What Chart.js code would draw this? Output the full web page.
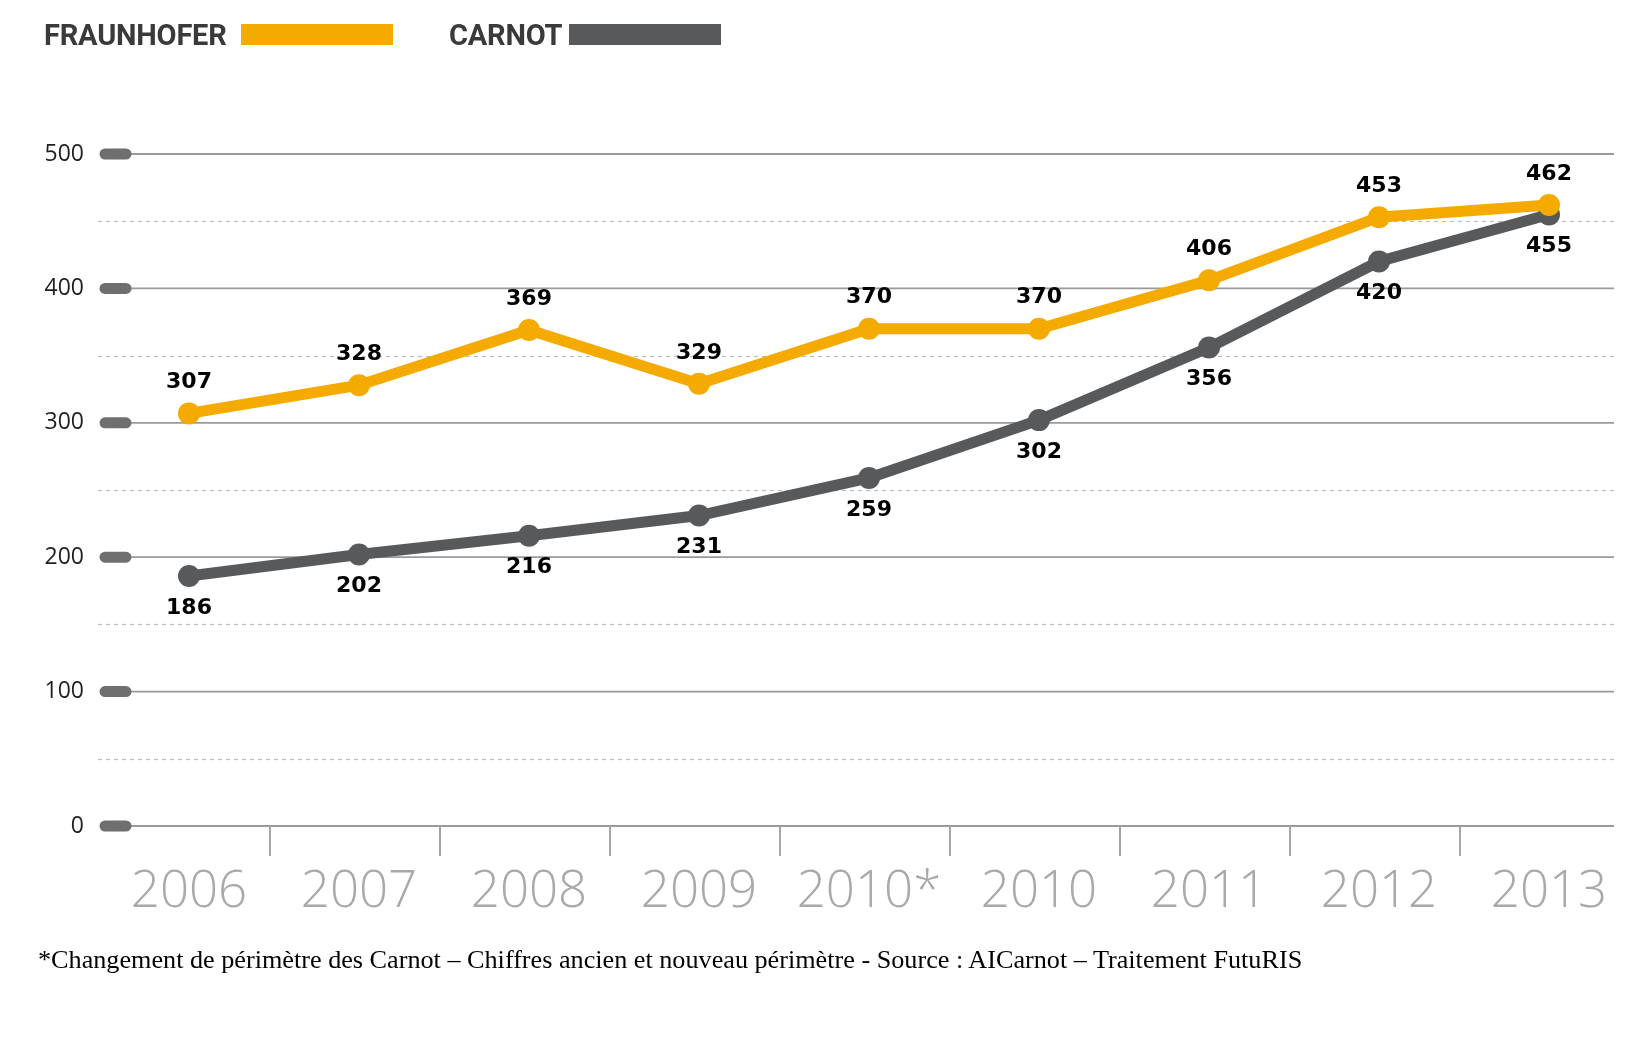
<!DOCTYPE html>
<html lang="fr">
<head>
<meta charset="utf-8">
<title>Fraunhofer / Carnot</title>
<script src="https://cdn.jsdelivr.net/npm/chart.js@4.4.1/dist/chart.umd.min.js"></script>
<style>
  html, body { margin: 0; padding: 0; background: #fff; }
  #page { position: relative; width: 1651px; height: 1048px; overflow: hidden; }
  #graphe { position: absolute; left: 0; top: 0; }
  .leg { position: absolute; top: 18px; font-family: "Liberation Sans Narrow", "Roboto", sans-serif;
         font-weight: bold; font-size: 29px; color: #3a3a3a; letter-spacing: -0.2px; line-height: 34px; }
  .barre { position: absolute; top: 24px; height: 21px; width: 152px; }
  #note { position: absolute; left: 38px; top: 945px; font-family: "Liberation Serif", "DejaVu Serif", serif;
          font-size: 26.2px; color: #000; white-space: nowrap; }
</style>
</head>
<body>
<div id="page">
  <canvas id="graphe" width="1651" height="1048"></canvas>
  <div class="leg" style="left:44px">FRAUNHOFER</div>
  <div class="barre" style="left:241px; background:#F5AA00"></div>
  <div class="leg" style="left:449px">CARNOT</div>
  <div class="barre" style="left:569px; background:#58595B"></div>
  <div id="note">*Changement de périmètre des Carnot – Chiffres ancien et nouveau périmètre - Source : AICarnot – Traitement FutuRIS</div>
</div>
<script>
// données
const annees = ["2006", "2007", "2008", "2009", "2010*", "2010", "2011", "2012", "2013"];
const fraunhofer = [307, 328, 369, 329, 370, 370, 406, 453, 462];
const carnot = [186, 202, 216, 231, 259, 302, 356, 420, 455];

const ORANGE = "#F5AA00";
const GRIS = "#58595B";

// grille : traits pleins aux graduations, pointillés entre, pastilles à gauche
const grillePlugin = {
  id: "grille",
  beforeDatasetsDraw(chart) {
    const { ctx, scales: { x, y } } = chart;
    const xDebut = 98, xPlein = 131, xFin = 1614;
    const vals = y.ticks.map(t => t.value);
    ctx.save();

    // pointillés (à mi-chemin entre deux graduations)
    ctx.strokeStyle = "#bdbdbd";
    ctx.lineWidth = 1.2;
    ctx.setLineDash([4, 4]);
    for (let i = 0; i < vals.length - 1; i++) {
      const py = Math.round(y.getPixelForValue((vals[i] + vals[i + 1]) / 2)) + 0.5;
      ctx.beginPath(); ctx.moveTo(xDebut, py); ctx.lineTo(xFin, py); ctx.stroke();
    }
    ctx.setLineDash([]);

    // traits pleins + pastilles
    vals.forEach(v => {
      const py = y.getPixelForValue(v);
      ctx.strokeStyle = "#9a9a9a";
      ctx.lineWidth = 1.8;
      ctx.beginPath(); ctx.moveTo(xPlein, py); ctx.lineTo(xFin, py); ctx.stroke();
      ctx.strokeStyle = "#6f6f70";
      ctx.lineWidth = 11;
      ctx.lineCap = "round";
      ctx.beginPath(); ctx.moveTo(105, py); ctx.lineTo(126, py); ctx.stroke();
      ctx.lineCap = "butt";
    });

    // petits séparateurs verticaux sous l'axe
    const base = y.getPixelForValue(0);
    ctx.strokeStyle = "#a5a5a5";
    ctx.lineWidth = 2;
    for (let i = 0; i < annees.length - 1; i++) {
      const px = Math.round((x.getPixelForValue(i) + x.getPixelForValue(i + 1)) / 2) - 4;
      ctx.beginPath(); ctx.moveTo(px, base); ctx.lineTo(px, base + 30); ctx.stroke();
    }
    ctx.restore();
  }
};

// étiquettes de valeur : au-dessus pour Fraunhofer, en dessous pour Carnot
const etiquettesPlugin = {
  id: "etiquettes",
  afterDatasetsDraw(chart) {
    const { ctx } = chart;
    ctx.save();
    ctx.font = "bold 22px 'DejaVu Sans', sans-serif";
    ctx.fillStyle = "#000";
    ctx.textAlign = "center";
    ctx.textBaseline = "middle";
    chart.data.datasets.forEach((ds, d) => {
      const meta = chart.getDatasetMeta(d);
      meta.data.forEach((pt, i) => {
        const dy = d === 0 ? -31 : 32;
        ctx.fillText(String(ds.data[i]), pt.x, pt.y + dy);
      });
    });
    ctx.restore();
  }
};

new Chart(document.getElementById("graphe"), {
  type: "line",
  data: {
    labels: annees,
    datasets: [
      {
        label: "FRAUNHOFER",
        data: fraunhofer,
        borderColor: ORANGE,
        backgroundColor: ORANGE,
        borderWidth: 11,
        pointRadius: 11,
        pointBorderWidth: 0,
        tension: 0,
        clip: false,
      },
      {
        label: "CARNOT",
        data: carnot,
        borderColor: GRIS,
        backgroundColor: GRIS,
        borderWidth: 11,
        pointRadius: 11,
        pointBorderWidth: 0,
        tension: 0,
        clip: false,
      },
    ],
  },
  options: {
    responsive: false,
    animation: false,
    layout: { padding: { left: 42, right: 17, top: 154, bottom: 112 } },
    plugins: {
      legend: { display: false },
      tooltip: { enabled: false },
    },
    scales: {
      x: {
        type: "category",
        offset: true,
        grid: { display: false, drawTicks: false },
        border: { display: false },
        ticks: {
          color: "#a9a9a9",
          padding: 36,
          maxRotation: 0,
          autoSkip: false,
          font: { family: "'Open Sans', 'Noto Sans', sans-serif", weight: 300, size: 51 },
        },
        afterFit: (axis) => { axis.height = 110; },
      },
      y: {
        min: 0,
        max: 500,
        grid: { display: false, drawTicks: false },
        border: { display: false },
        ticks: {
          stepSize: 100,
          color: "#1f1f1f",
          padding: 20,
          font: { family: "'Open Sans', 'Noto Sans', sans-serif", weight: 400, size: 23 },
        },
        afterFit: (axis) => { axis.width = 62; },
      },
    },
  },
  plugins: [grillePlugin, etiquettesPlugin],
});
</script>
</body>
</html>
